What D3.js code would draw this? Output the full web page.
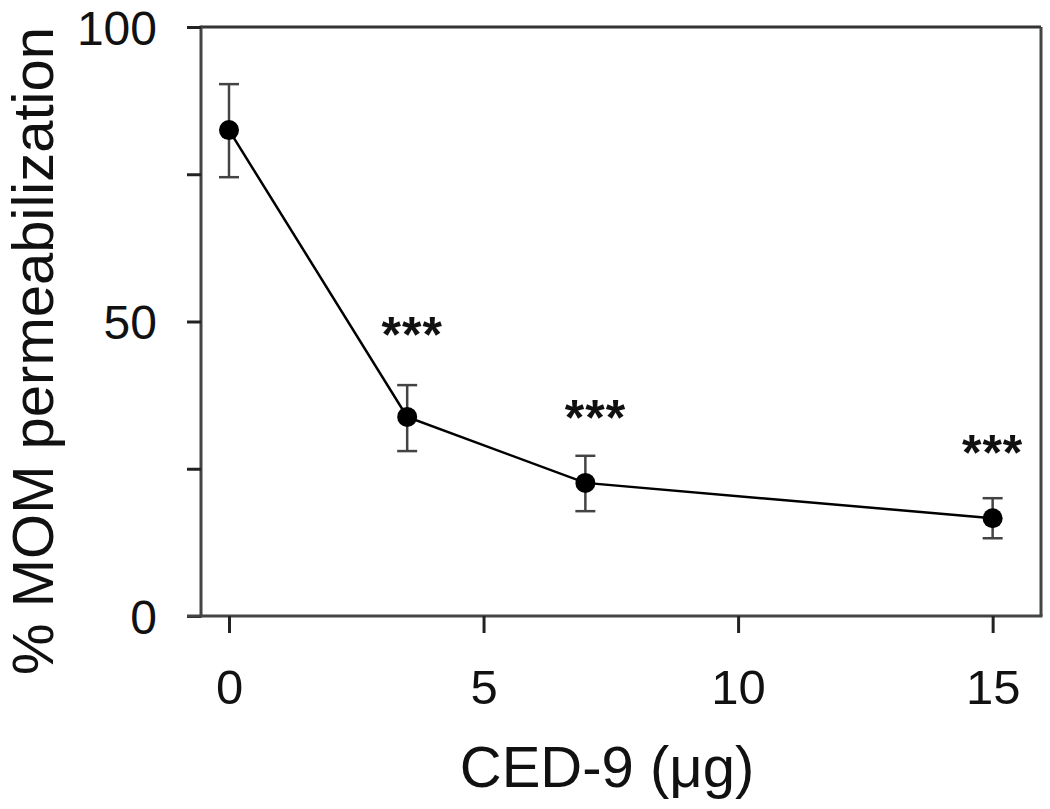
<!DOCTYPE html>
<html>
<head>
<meta charset="utf-8">
<script src="https://cdn.jsdelivr.net/npm/d3@7"></script>
<style>
  html, body { margin: 0; padding: 0; background: #fff; }
  svg text { font-family: "Liberation Sans", Arial, sans-serif; fill: #111; }
</style>
</head>
<body>
<svg id="chart" width="1050" height="809"></svg>
<script>
// Data
const doses = [0, 3.5, 7, 15];
const meanValues = [82.5, 33.8, 22.6, 16.6];
const errUpper = [90.3, 39.2, 27.2, 20.0];
const errLower = [74.5, 28.0, 17.8, 13.2];
const starX = [3.6, 7.2, 15];
const starY = [44.8, 30.8, 24.8];
const starLabels = ["***", "***", "***"];
const xTicks = [0, 5, 10, 15];
const yTicks = [0, 25, 50, 75, 100];
const yTickLabels = {0: "0", 50: "50", 100: "100"};
const xTitle = "CED-9 (\u03bcg)";
const yTitle = "% MOM permeabilization";

const svg = d3.select("#chart");
const pLeft = 201, pRight = 1041, pTop = 27, pBottom = 616;

const x = d3.scaleLinear().domain([-0.55, 15.95]).range([pLeft, pRight]);
const y = d3.scaleLinear().domain([0, 100]).range([pBottom, pTop]);

// Frame (top and right)
svg.append("line").attr("x1", pLeft).attr("x2", pRight).attr("y1", pTop).attr("y2", pTop)
  .attr("stroke", "#333").attr("stroke-width", 3);
svg.append("line").attr("x1", pRight).attr("x2", pRight).attr("y1", pTop).attr("y2", pBottom)
  .attr("stroke", "#444").attr("stroke-width", 3);

// Y axis
const yAxis = d3.axisLeft(y).tickValues(yTicks).tickSize(14).tickPadding(30)
  .tickFormat(d => yTickLabels[d] || "");
const gy = svg.append("g").attr("transform", `translate(${pLeft},0)`).call(yAxis);
gy.select(".domain").attr("stroke", "#444").attr("stroke-width", 3)
  .attr("d", `M0,${pTop - 1.5}V${pBottom + 1.5}`);
gy.selectAll(".tick line").attr("stroke", "#222").attr("stroke-width", 3);
gy.selectAll(".tick text").attr("font-size", 48).attr("font-family", "Liberation Sans, Arial, sans-serif")
  .attr("fill", "#111").attr("dy", "0.36em");

// X axis
const xAxis = d3.axisBottom(x).tickValues(xTicks).tickSize(17).tickPadding(36);
const gx = svg.append("g").attr("transform", `translate(0,${pBottom})`).call(xAxis);
gx.select(".domain").attr("stroke", "#444").attr("stroke-width", 3)
  .attr("d", `M${pLeft - 14},0H${pRight + 1.5}`);
gx.selectAll(".tick line").attr("stroke", "#222").attr("stroke-width", 3);
gx.selectAll(".tick text").attr("font-size", 49).attr("font-family", "Liberation Sans, Arial, sans-serif")
  .attr("fill", "#111");

// Axis titles
svg.append("text").attr("x", 607).attr("y", 787).attr("text-anchor", "middle")
  .attr("font-size", 58).text(xTitle);
svg.append("text").attr("transform", "translate(53,351) rotate(-90)").attr("text-anchor", "middle")
  .attr("font-size", 58).text(yTitle);

const data = doses.map((d, i) => ({x: d, y: meanValues[i], hi: errUpper[i], lo: errLower[i]}));

// Error bars
const eb = svg.append("g").attr("stroke", "#444").attr("stroke-width", 2.5);
data.forEach(d => {
  eb.append("line").attr("x1", x(d.x)).attr("x2", x(d.x)).attr("y1", y(d.hi)).attr("y2", y(d.lo));
  eb.append("line").attr("x1", x(d.x) - 10).attr("x2", x(d.x) + 10).attr("y1", y(d.hi)).attr("y2", y(d.hi));
  eb.append("line").attr("x1", x(d.x) - 10).attr("x2", x(d.x) + 10).attr("y1", y(d.lo)).attr("y2", y(d.lo));
});

// Line
svg.append("path").datum(data)
  .attr("d", d3.line().x(d => x(d.x)).y(d => y(d.y)))
  .attr("fill", "none").attr("stroke", "#000").attr("stroke-width", 2.5);

// Points
svg.selectAll("circle.pt").data(data).enter().append("circle")
  .attr("class", "pt").attr("cx", d => x(d.x)).attr("cy", d => y(d.y)).attr("r", 10).attr("fill", "#000");

// Significance stars
starLabels.forEach((s, i) => {
  svg.append("text").attr("x", x(starX[i])).attr("y", y(starY[i])).attr("text-anchor", "middle")
    .attr("font-size", 50).attr("font-weight", "bold").attr("letter-spacing", 1).text(s);
});
</script>
</body>
</html>
